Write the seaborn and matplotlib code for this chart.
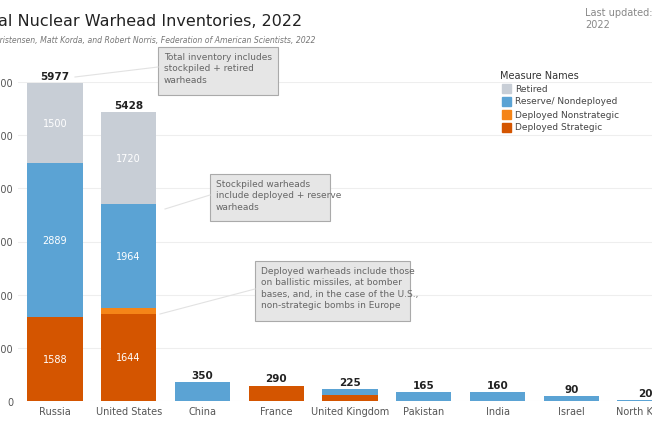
import matplotlib
matplotlib.use("Agg")
import matplotlib.pyplot as plt
import seaborn as sns
import numpy as np
import pandas as pd
from matplotlib.lines import Line2D

countries = ["Russia", "United States", "China", "France", "United Kingdom",
             "Pakistan", "India", "Israel", "North Korea"]
deployed_strategic = [1588, 1644, 0, 290, 120, 0, 0, 0, 0]
deployed_nonstrategic = [0, 100, 0, 0, 0, 0, 0, 0, 0]
reserve = [2889, 1964, 350, 0, 105, 165, 160, 90, 20]
retired = [1500, 1720, 0, 0, 0, 0, 0, 0, 0]
totals = [5977, 5428, 350, 290, 225, 165, 160, 90, 20]

colors = {"Retired": "#c8ced6", "Reserve/ Nondeployed": "#5ba3d4",
          "Deployed Nonstrategic": "#f58518", "Deployed Strategic": "#d45500"}

fig = plt.figure(figsize=(6.52, 4.35), dpi=100)
ax = fig.add_axes([18/652, 33/435, 664/652, 319/435])

series = [("Deployed Strategic", deployed_strategic),
          ("Deployed Nonstrategic", deployed_nonstrategic),
          ("Reserve/ Nondeployed", reserve),
          ("Retired", retired)]
bottom = np.zeros(len(countries))
for name, vals in series:
    df = pd.DataFrame({"c": countries, "v": vals})
    sns.barplot(data=df, x="c", y="v", order=countries, color=colors[name],
                width=0.75, ax=ax, bottom=bottom, saturation=1, errorbar=None)
    for i, v in enumerate(vals):
        if v >= 1000:
            ax.text(i, bottom[i] + v / 2, str(v), ha="center", va="center",
                    color="white", fontsize=7)
    bottom += np.array(vals)

for i, t in enumerate(totals):
    ax.text(i, t + 40, str(t), ha="center", va="bottom", fontsize=7.5,
            fontweight="bold", color="#222")

ax.set_xlim(-0.5, 8.5)
ax.set_ylim(0, 6000)
ax.set_yticks(range(0, 7000, 1000))
ax.set_yticklabels([f"{v:,}" for v in range(0, 7000, 1000)], fontsize=7, color="#555")
ax.tick_params(axis="x", labelsize=7, colors="#555", length=0)
ax.tick_params(axis="y", length=0)
ax.set_xlabel("")
ax.set_ylabel("")
ax.grid(axis="y", color="#eeeeee", lw=0.8)
ax.set_axisbelow(True)
for s in ax.spines.values():
    s.set_visible(False)

fig.text(302/652, 1 - 22/435, "Estimated Global Nuclear Warhead Inventories, 2022",
         ha="right", va="center", fontsize=11.5, color="#222")
fig.text(315/652, 1 - 40/435,
         "Source: Hans M. Kristensen, Matt Korda, and Robert Norris, Federation of American Scientists, 2022",
         ha="right", va="center", fontsize=5.6, style="italic", color="#777")
fig.text(585/652, 1 - 8/435, "Last updated: 23 February\n2022", ha="left", va="top",
         fontsize=7, color="#888")

# legend
fig.text(500/652, 1 - 76/435, "Measure Names", fontsize=7, color="#333", va="center")
for k, name in enumerate(["Retired", "Reserve/ Nondeployed", "Deployed Nonstrategic",
                          "Deployed Strategic"]):
    y = 1 - (89 + 13 * k) / 435
    fig.patches.append(plt.Rectangle((502/652, y - 4.5/435), 9/652, 9/435,
                                     transform=fig.transFigure, color=colors[name]))
    fig.text(515/652, y, name, fontsize=6.5, color="#444", va="center")

def note(x0, y0, x1, y1, text, lx, ly, px, py):
    fig.patches.append(plt.Rectangle((x0/652, 1 - y1/435), (x1 - x0)/652, (y1 - y0)/435,
                                     transform=fig.transFigure, facecolor="#e6e6e6",
                                     edgecolor="#aaaaaa", lw=0.8))
    fig.text((x0 + 6)/652, 1 - (y0 + 5)/435, text, fontsize=6.5, color="#666",
             va="top", ha="left", linespacing=1.35)
    fig.lines.append(Line2D([lx/652, px/652], [1 - ly/435, 1 - py/435],
                            transform=fig.transFigure, color="#e2e2e2", lw=0.8))

note(158, 48, 278, 96, "Total inventory includes\nstockpiled + retired\nwarheads", 158, 68, 75, 78)
note(210, 175, 330, 222, "Stockpiled warheads\ninclude deployed + reserve\nwarheads", 210, 196, 165, 210)
note(255, 262, 410, 322, "Deployed warheads include those\non ballistic missiles, at bomber\nbases, and, in the case of the U.S.,\nnon-strategic bombs in Europe",
     255, 290, 160, 315)

fig.savefig("out.png", dpi=100)
